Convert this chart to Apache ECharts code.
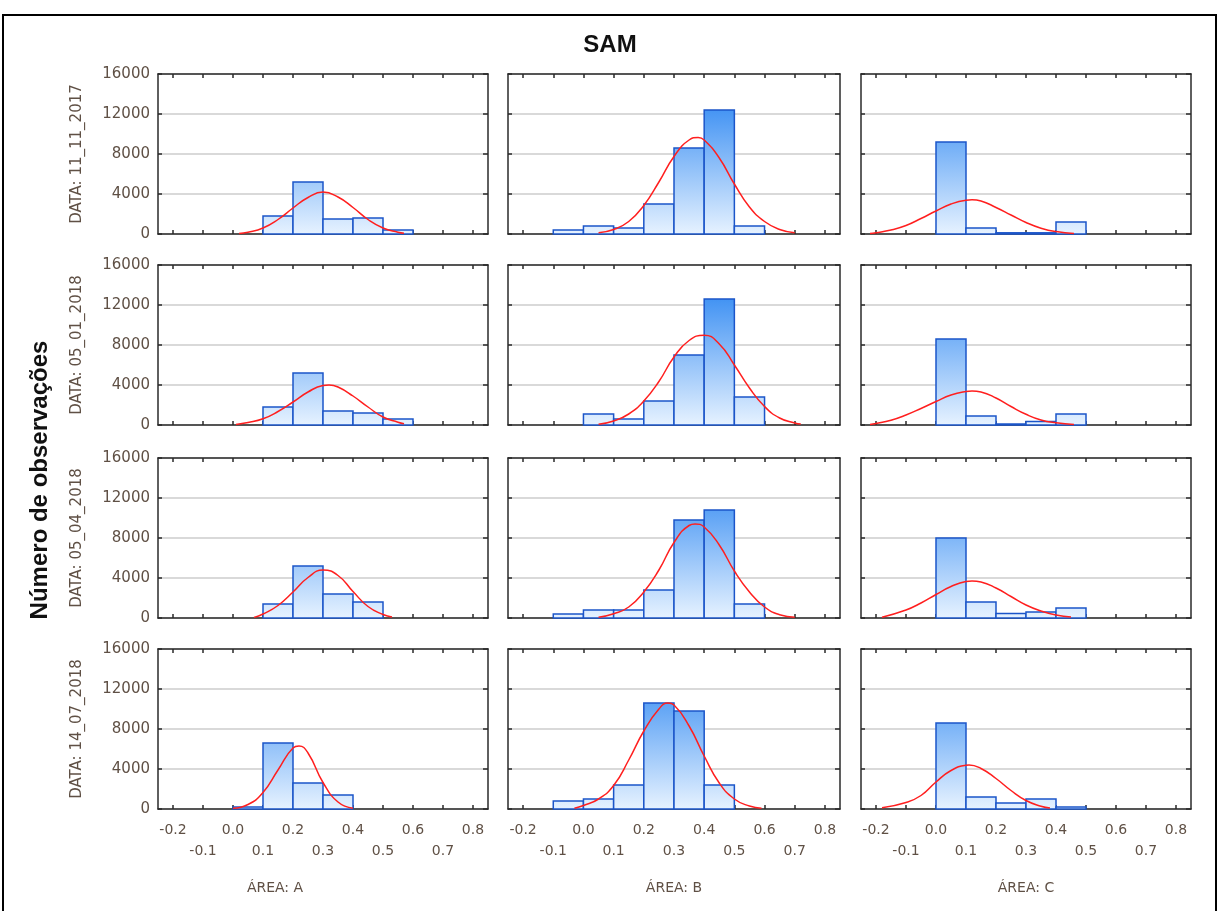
<!DOCTYPE html>
<html>
<head>
<meta charset="utf-8">
<script src="https://cdn.jsdelivr.net/npm/echarts@6/dist/echarts.min.js"></script>
<style>
html, body { margin: 0; padding: 0; background: #fff; }
#chart { width: 1220px; height: 911px; }
</style>
</head>
<body>
<div id="chart"></div>
<script>
var myChart = echarts.init(document.getElementById('chart'));

var rowLabels = ['DATA: 11_11_2017', 'DATA: 05_01_2018', 'DATA: 05_04_2018', 'DATA: 14_07_2018'];
var areaLabels = ['ÁREA: A', 'ÁREA: B', 'ÁREA: C'];
var xTicks = [-0.2, -0.1, 0, 0.1, 0.2, 0.3, 0.4, 0.5, 0.6, 0.7, 0.8];
var binEdges = [-0.1, 0, 0.1, 0.2, 0.3, 0.4, 0.5, 0.6];

// counts per bin (same order as binEdges)
var countsA1 = [0, 0, 1800, 5200, 1500, 1600, 400];
var countsB1 = [400, 800, 600, 3000, 8600, 12400, 800];
var countsC1 = [0, 9200, 600, 120, 120, 1200, 0];
var countsA2 = [0, 0, 1800, 5200, 1400, 1200, 600];
var countsB2 = [0, 1100, 600, 2400, 7000, 12600, 2800];
var countsC2 = [0, 8600, 900, 100, 350, 1100, 0];
var countsA3 = [0, 0, 1400, 5200, 2400, 1600, 0];
var countsB3 = [400, 800, 800, 2800, 9800, 10800, 1400];
var countsC3 = [0, 8000, 1600, 450, 600, 1000, 0];
var countsA4 = [0, 200, 6600, 2600, 1400, 0, 0];
var countsB4 = [800, 1000, 2400, 10600, 9800, 2400, 0];
var countsC4 = [0, 8600, 1200, 600, 1000, 200, 0];

// fitted curves
var fitA1 = [[0.02, 60], [0.05, 180], [0.1, 600], [0.15, 1450], [0.2, 2600], [0.25, 3650], [0.3, 4200], [0.35, 3700], [0.4, 2650], [0.45, 1450], [0.5, 600], [0.55, 180], [0.57, 80]];
var fitB1 = [[0.05, 120], [0.1, 450], [0.15, 1250], [0.2, 2850], [0.25, 5200], [0.3, 7750], [0.35, 9400], [0.38, 9650], [0.4, 9400], [0.45, 7600], [0.5, 5000], [0.55, 2700], [0.6, 1250], [0.65, 450], [0.7, 120]];
var fitC1 = [[-0.22, 60], [-0.2, 130], [-0.15, 400], [-0.1, 850], [-0.05, 1550], [0, 2300], [0.05, 3000], [0.1, 3380], [0.12, 3420], [0.15, 3300], [0.2, 2650], [0.25, 1900], [0.3, 1150], [0.35, 580], [0.4, 240], [0.46, 60]];
var fitA2 = [[0.01, 60], [0.05, 250], [0.1, 620], [0.15, 1350], [0.2, 2300], [0.25, 3300], [0.3, 3950], [0.32, 4000], [0.35, 3800], [0.4, 2900], [0.45, 1800], [0.5, 800], [0.55, 280], [0.57, 120]];
var fitB2 = [[0.05, 70], [0.1, 400], [0.15, 1100], [0.2, 2400], [0.25, 4350], [0.3, 6800], [0.35, 8450], [0.4, 8980], [0.45, 8100], [0.5, 6000], [0.55, 3700], [0.6, 1850], [0.65, 700], [0.7, 200], [0.72, 90]];
var fitC2 = [[-0.22, 60], [-0.2, 150], [-0.15, 480], [-0.1, 1000], [-0.05, 1650], [0, 2350], [0.05, 3000], [0.1, 3350], [0.12, 3400], [0.15, 3300], [0.2, 2700], [0.25, 1850], [0.3, 1070], [0.35, 500], [0.4, 220], [0.46, 60]];
var fitA3 = [[0.07, 60], [0.1, 400], [0.15, 1250], [0.2, 2600], [0.25, 4050], [0.3, 4800], [0.35, 4250], [0.4, 2650], [0.45, 1150], [0.5, 350], [0.53, 100]];
var fitB3 = [[0.05, 70], [0.1, 430], [0.15, 1100], [0.2, 2600], [0.25, 4800], [0.3, 7550], [0.35, 9250], [0.37, 9400], [0.4, 9100], [0.45, 7300], [0.5, 4700], [0.55, 2600], [0.6, 1100], [0.65, 330], [0.7, 80]];
var fitC3 = [[-0.18, 80], [-0.1, 800], [-0.05, 1500], [0, 2350], [0.05, 3150], [0.1, 3650], [0.12, 3700], [0.15, 3600], [0.2, 3000], [0.25, 2150], [0.3, 1300], [0.35, 700], [0.4, 300], [0.45, 110]];
var fitA4 = [[0, 70], [0.05, 450], [0.1, 1650], [0.15, 3900], [0.2, 6100], [0.22, 6300], [0.25, 5600], [0.3, 2650], [0.35, 700], [0.4, 80]];
var fitB4 = [[-0.03, 70], [0, 350], [0.05, 1000], [0.1, 2350], [0.15, 4900], [0.2, 7800], [0.25, 10000], [0.28, 10600], [0.3, 10400], [0.35, 8300], [0.4, 5300], [0.45, 2600], [0.5, 1000], [0.55, 300], [0.59, 80]];
var fitC4 = [[-0.18, 120], [-0.1, 650], [-0.05, 1350], [0, 2700], [0.05, 3850], [0.1, 4380], [0.11, 4400], [0.15, 4050], [0.2, 3050], [0.25, 1850], [0.3, 850], [0.35, 280], [0.38, 100]];

var panels = [
	[countsA1, fitA1], [countsB1, fitB1], [countsC1, fitC1],
	[countsA2, fitA2], [countsB2, fitB2], [countsC2, fitC2],
	[countsA3, fitA3], [countsB3, fitB3], [countsC3, fitC3],
	[countsA4, fitA4], [countsB4, fitB4], [countsC4, fitC4]
];

var colLeft = [158, 508, 861];
var colWidth = [330, 332, 330];
var rowTop = [74, 265, 458, 649];
var rowHeight = 160;
var labelColor = '#5f5045';
var frameColor = '#2a2a2a';

function renderBar(params, api) {
	var a = api.coord([api.value(0), api.value(2)]);
	var b = api.coord([api.value(1), 0]);
	var top = api.coord([0, 16000])[1];
	return {
		type: 'rect',
		shape: { x: a[0], y: a[1], width: b[0] - a[0], height: b[1] - a[1] },
		style: {
			fill: new echarts.graphic.LinearGradient(0, top, 0, b[1], [
				{ offset: 0, color: '#177af0' },
				{ offset: 1, color: '#e6f2ff' }
			], true),
			stroke: '#1b55c9',
			lineWidth: 1.5
		}
	};
}

function xLabel(v) {
	var k = Math.round(v * 10);
	var s = (k / 10).toFixed(1);
	return Math.abs(k) % 2 ? '\n' + s : s;
}

var grid = [], xAxis = [], yAxis = [], series = [];
panels.forEach(function (p, i) {
	var r = Math.floor(i / 3), c = i % 3;
	grid.push({ left: colLeft[c], top: rowTop[r], width: colWidth[c], height: rowHeight });
	var tickCfg = { show: true, inside: true, length: 4, customValues: xTicks, lineStyle: { color: frameColor, width: 1.5 } };
	var lineCfg = { show: true, onZero: false, lineStyle: { color: frameColor, width: 1.5 } };
	xAxis.push({
		type: 'value', gridIndex: i, min: -0.25, max: 0.85, position: 'bottom',
		axisLine: lineCfg, axisTick: tickCfg, splitLine: { show: false },
		axisLabel: {
			show: r === 3, customValues: xTicks, formatter: xLabel, margin: 11, lineHeight: 21,
			color: labelColor, fontSize: 14, fontFamily: 'DejaVu Sans'
		}
	});
	xAxis.push({
		type: 'value', gridIndex: i, min: -0.25, max: 0.85, position: 'top',
		axisLine: lineCfg, axisTick: tickCfg, axisLabel: { show: false }, splitLine: { show: false }
	});
	yAxis.push({
		type: 'value', gridIndex: i, min: 0, max: 16000, interval: 4000, position: 'left',
		axisLine: lineCfg,
		axisTick: { show: true, inside: true, length: 4, lineStyle: { color: frameColor, width: 1.5 } },
		splitLine: { show: true, lineStyle: { color: '#d9d9d9', width: 2 } },
		axisLabel: {
			show: c === 0, margin: 8, color: labelColor, fontSize: 15, fontFamily: 'DejaVu Sans',
			formatter: function (v) { return String(v); }
		}
	});
	yAxis.push({
		type: 'value', gridIndex: i, min: 0, max: 16000, interval: 4000, position: 'right',
		axisLine: lineCfg,
		axisTick: { show: true, inside: true, length: 5, lineStyle: { color: frameColor, width: 1.5 } },
		splitLine: { show: false }, axisLabel: { show: false }
	});
	var bars = [];
	p[0].forEach(function (n, k) {
		if (n > 0) bars.push([binEdges[k], binEdges[k + 1], n]);
	});
	series.push({
		type: 'custom', xAxisIndex: 2 * i, yAxisIndex: 2 * i,
		renderItem: renderBar, encode: { x: [0, 1], y: 2 }, data: bars, z: 2
	});
	series.push({
		type: 'line', xAxisIndex: 2 * i, yAxisIndex: 2 * i, data: p[1],
		smooth: true, showSymbol: false, symbol: 'none', z: 3,
		lineStyle: { color: '#ff1f1f', width: 1.5 }
	});
});

var graphic = [{
	type: 'rect', silent: true,
	shape: { x: 3, y: 15, width: 1213, height: 920 },
	style: { fill: 'none', stroke: '#000', lineWidth: 2 }
}, {
	type: 'text', x: 40, y: 480, rotation: Math.PI / 2,
	style: {
		text: 'Número de observações', x: 0, y: 0, align: 'center', verticalAlign: 'middle',
		fontSize: 24, fontWeight: 'bold', fontFamily: 'Liberation Sans', fill: '#111'
	}
}];
rowLabels.forEach(function (t, r) {
	graphic.push({
		type: 'text', x: 77, y: rowTop[r] + rowHeight / 2, rotation: Math.PI / 2,
		style: {
			text: t, x: 0, y: 0, align: 'center', verticalAlign: 'middle',
			fontSize: 15, fontFamily: 'DejaVu Sans', fill: labelColor
		}
	});
});
var areaCenter = [275, 674, 1026];
areaLabels.forEach(function (t, c) {
	graphic.push({
		type: 'text', x: areaCenter[c], y: 888,
		style: {
			text: t, x: 0, y: 0, align: 'center', verticalAlign: 'middle',
			fontSize: 14, fontFamily: 'DejaVu Sans', fill: labelColor
		}
	});
});

myChart.setOption({
	animation: false,
	title: {
		text: 'SAM', left: 'center', top: 28,
		textStyle: { fontSize: 24, fontWeight: 'bold', fontFamily: 'Liberation Sans', color: '#111' }
	},
	grid: grid,
	xAxis: xAxis,
	yAxis: yAxis,
	series: series,
	graphic: graphic
});
</script>
</body>
</html>
